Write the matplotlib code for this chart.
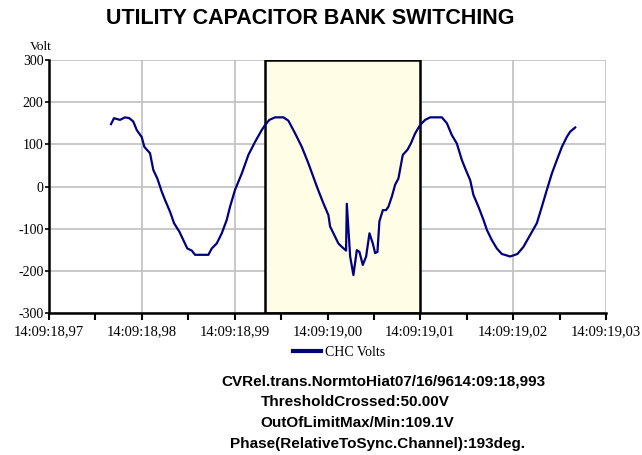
"""Utility capacitor bank switching waveform (CHC volts)."""

import matplotlib

matplotlib.use("Agg")
import matplotlib.pyplot as plt
from matplotlib.ticker import FixedLocator, MultipleLocator

time_ms = [
    6.68, 7.00, 7.65, 8.19, 8.65, 9.08, 9.45, 9.99, 10.27, 10.88,
    11.24, 11.67, 12.14, 12.50, 13.04, 13.47, 14.04, 14.47, 14.90, 15.38,
    15.73, 17.17, 17.53, 18.07, 18.61, 19.15, 19.50, 20.04, 20.77, 21.48,
    22.20, 22.92, 23.28, 23.74, 24.35, 25.25, 25.79, 26.51, 27.23, 27.94,
    28.85, 29.20, 29.56, 30.10, 30.28, 30.64, 31.17, 31.54, 32.00, 32.08,
    32.44, 32.79, 33.16, 33.44, 33.80, 34.16, 34.52, 34.88, 35.13, 35.38,
    35.59, 35.96, 36.31, 36.56, 36.93, 37.28, 37.64, 38.11, 38.61, 38.98,
    39.44, 39.98, 40.52, 41.06, 42.32, 42.86, 43.39, 43.93, 44.47, 44.83,
    45.37, 45.72, 46.26, 46.80, 47.17, 47.70, 48.24, 48.78, 49.68, 50.46,
    51.11, 51.83, 52.55, 53.09, 53.63, 54.17, 54.71, 55.25, 55.79, 56.14,
    56.68,
]
volts = [
    148, 162, 158, 164, 162, 154, 134, 117, 94, 79,
    39, 19, -12, -32, -60, -87, -107, -127, -147, -152,
    -162, -162, -147, -135, -111, -79, -48, -8, 31, 75,
    106, 134, 146, 158, 164, 164, 156, 126, 94, 55,
    0, -20, -40, -68, -95, -111, -135, -143, -152, -41,
    -166, -210, -151, -155, -186, -166, -111, -135, -158, -155,
    -83, -56, -56, -48, -24, 4, 19, 75, 87, 102,
    126, 146, 158, 164, 164, 150, 122, 102, 63, 43,
    15, -20, -48, -79, -103, -127, -147, -160, -166, -160,
    -143, -115, -87, -48, -8, 31, 63, 94, 118, 130,
    140,
]

xtick_pos = [0, 10, 20, 30, 40, 50, 60]
xtick_labels = [
    "14:09:18,97", "14:09:18,98", "14:09:18,99", "14:09:19,00",
    "14:09:19,01", "14:09:19,02", "14:09:19,03",
]
yticks = [-300, -200, -100, 0, 100, 200, 300]
event_window = [23.3, 40.0]  # trigger at 14:09:18,993 to 14:09:19,01

info_lines = [
    "CVRel.trans.NormtoHiat07/16/9614:09:18,993",
    "ThresholdCrossed:50.00V",
    "OutOfLimitMax/Min:109.1V",
    "Phase(RelativeToSync.Channel):193deg.",
]

W, H = 642, 455
fig = plt.figure(figsize=(W / 100, H / 100), dpi=100)
fig.patch.set_facecolor("white")
ax = fig.add_axes([49 / W, 1 - 313 / H, 557 / W, 253 / H])

serif = ["Liberation Serif", "DejaVu Serif"]
sans = ["Liberation Sans", "DejaVu Sans"]

ax.axvspan(*event_window, facecolor="#fffde6", edgecolor="black", linewidth=1.8, zorder=1)
ax.plot(time_ms, volts, color="#000080", linewidth=1.6, label="CHC Volts", zorder=3)

ax.set_xlim(0, 60)
ax.set_ylim(-300, 300)
ax.xaxis.set_major_locator(FixedLocator(xtick_pos))
ax.xaxis.set_minor_locator(MultipleLocator(5))
ax.set_xticks(xtick_pos, xtick_labels)
ax.set_yticks(yticks, [str(v) for v in yticks])
ax.grid(True, which="major", color="#c0c0c0", linewidth=1.2, zorder=0)
ax.set_axisbelow(True)

for side in ("top", "right"):
    ax.spines[side].set_visible(False)
for side in ("left", "bottom"):
    ax.spines[side].set_linewidth(1.8)
    ax.spines[side].set_zorder(4)

ax.tick_params(axis="x", which="both", direction="out", length=5, width=1.5, pad=4)
ax.tick_params(axis="y", which="major", direction="out", length=3, width=1.2, pad=1)
for lab in ax.get_xticklabels():
    lab.set_family(serif)
    lab.set_fontsize(10.5)
for lab in ax.get_yticklabels():
    lab.set_family(serif)
    lab.set_fontsize(10)

fig.text(41 / W, 1 - 47 / H, "Volt", family=serif, fontsize=9.5, ha="center", va="center")

leg = ax.legend(loc="center", bbox_to_anchor=(339 / W, 1 - 352 / H),
                bbox_transform=fig.transFigure, frameon=False, handlelength=2.0,
                handletextpad=0.3, prop={"family": serif, "size": 10})
leg.get_lines()[0].set_linewidth(3)

fig.text(310 / W, 1 - 19 / H, "UTILITY CAPACITOR BANK SWITCHING", family=sans,
         fontsize=15.5, fontweight="bold", ha="center", va="center")

centers = [(383, 381), (355, 402), (357, 423), (378, 444)]
for line, (cx, cy) in zip(info_lines, centers):
    fig.text(cx / W, 1 - cy / H, line, family=sans, fontsize=11, fontweight="bold",
             ha="center", va="center")

fig.savefig("out.png", dpi=100)
